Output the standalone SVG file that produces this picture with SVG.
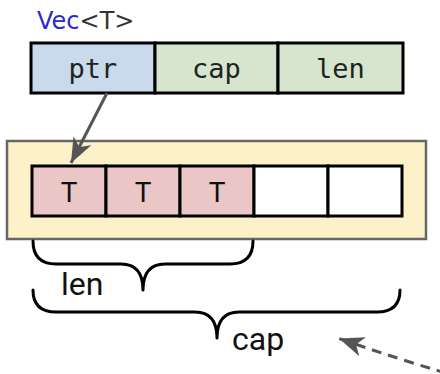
<svg xmlns="http://www.w3.org/2000/svg" width="440" height="374" viewBox="0 0 440 374">
  <style>
    .cell { stroke: #000; stroke-width: 3; }
    .mono { font-family: "DejaVu Sans Mono", "Liberation Mono", monospace; font-size: 27px; fill: #222; text-anchor: middle; }
    .sans { font-family: Roboto, "Liberation Sans", sans-serif; fill: #111; }
    .brace { fill: none; stroke: #000; stroke-width: 3; stroke-linecap: round; stroke-linejoin: round; }
    .link { fill: none; stroke: #555; stroke-width: 3; }
    .empty { fill: #fff; }
    .elem { fill: #eac6c6; }
  </style>
  <defs>
    <marker id="head" markerUnits="userSpaceOnUse" markerWidth="30" markerHeight="24" viewBox="-26 -12 28 24" refX="0" refY="0" orient="auto">
      <path d="M0,0 L-25,-10 L-18,0 L-25,10 Z" fill="#555"/>
    </marker>
  </defs>

  <!-- type label -->
  <g id="vec-label">
    <text x="37" y="29" font-family="'DejaVu Sans', Verdana, sans-serif" font-size="24"><tspan fill="#2a2ad0">Vec</tspan><tspan fill="#333">&lt;T&gt;</tspan></text>
  </g>

  <!-- stack part: the three fields -->
  <g id="field-ptr">
    <rect class="cell" x="31" y="43" width="124" height="50" fill="#c9daec"/>
    <text class="mono" x="93" y="78">ptr</text>
  </g>
  <g id="field-cap">
    <rect class="cell" x="155" y="43" width="123" height="50" fill="#d6e5cd"/>
    <text class="mono" x="216.5" y="78">cap</text>
  </g>
  <g id="field-len">
    <rect class="cell" x="278" y="43" width="125" height="50" fill="#d6e5cd"/>
    <text class="mono" x="340.5" y="78">len</text>
  </g>

  <!-- heap allocation -->
  <g id="heap-buffer">
    <rect x="7" y="141" width="419" height="98" fill="#fdf1c9" stroke="#666" stroke-width="2.5"/>
  </g>
  <g id="slot-1">
    <rect class="cell elem" x="32" y="166" width="74" height="50"/>
    <text class="sans" x="69" y="202" font-size="28" text-anchor="middle">T</text>
  </g>
  <g id="slot-2">
    <rect class="cell elem" x="106" y="166" width="74" height="50"/>
    <text class="sans" x="143" y="202" font-size="28" text-anchor="middle">T</text>
  </g>
  <g id="slot-3">
    <rect class="cell elem" x="180" y="166" width="74" height="50"/>
    <text class="sans" x="217" y="202" font-size="28" text-anchor="middle">T</text>
  </g>
  <g id="slot-4">
    <rect class="cell empty" x="254" y="166" width="74" height="50"/>
  </g>
  <g id="slot-5">
    <rect class="cell empty" x="328" y="166" width="74" height="50"/>
  </g>

  <!-- braces -->
  <g id="brace-len">
    <path class="brace" d="M33,241 Q33,264 56,264 L121,264 Q143,264 143,290 Q143,264 165,264 L230,264 Q253,264 253,241"/>
    <text class="sans" x="61" y="295" font-size="32">len</text>
  </g>
  <g id="brace-cap">
    <path class="brace" d="M33,290 Q33,312 56,312 L195,312 Q217,312 217,338 Q217,312 239,312 L377,312 Q400,312 400,290"/>
    <text class="sans" x="232" y="350" font-size="32">cap</text>
  </g>

  <!-- connectors -->
  <g id="connectors">
    <path class="link" d="M107,93 L71,163" marker-end="url(#head)"/>
    <path class="link" d="M446,373 Q395,358 339,338.5" stroke-dasharray="10 7" marker-end="url(#head)"/>
  </g>
</svg>
